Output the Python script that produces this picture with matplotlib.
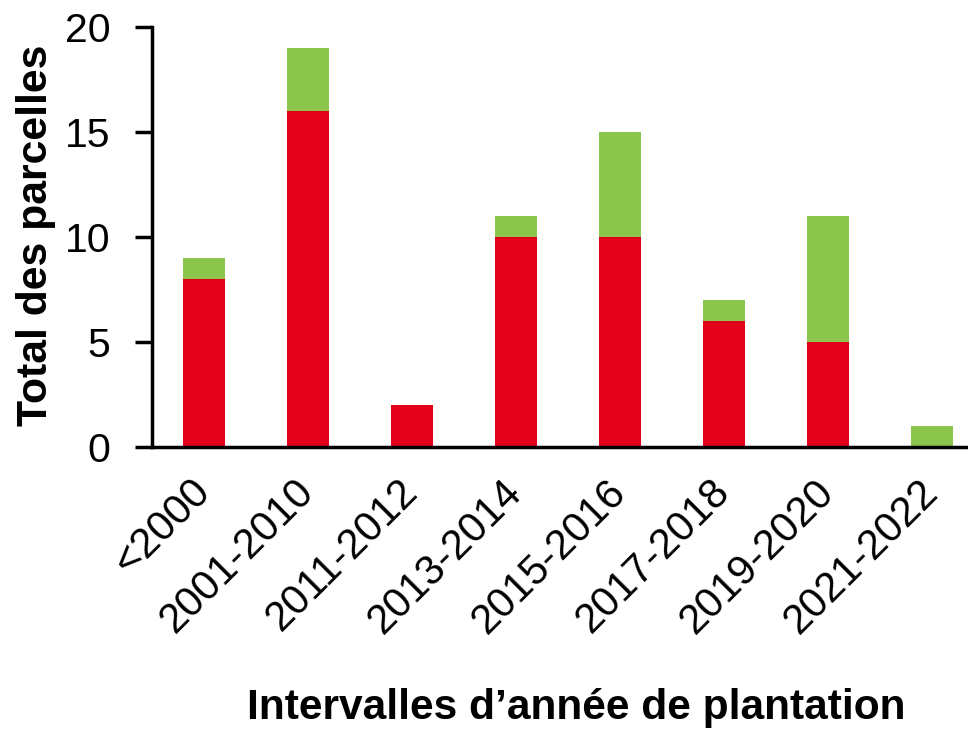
import matplotlib
matplotlib.use('Agg')
import matplotlib.pyplot as plt
import numpy as np

plt.rcParams['font.family'] = ['Liberation Sans', 'DejaVu Sans']

categories = ['<2000', '2001-2010', '2011-2012', '2013-2014', '2015-2016',
              '2017-2018', '2019-2020', '2021-2022']
red_vals = [8, 16, 2, 10, 10, 6, 5, 0]
green_vals = [1, 3, 0, 1, 5, 1, 6, 1]

red = '#E2001A'
green = '#8BC54C'

fig = plt.figure(figsize=(9.68, 7.30), dpi=100)
ax = fig.add_axes([152/968, 283/730, 832/968, 420/730])

x = np.arange(len(categories))
ax.bar(x, red_vals, width=0.4, color=red)
ax.bar(x, green_vals, width=0.4, bottom=red_vals, color=green)

ax.set_xlim(-0.5, 7.5)
ax.set_ylim(0, 20)
ax.set_yticks([0, 5, 10, 15, 20])
ax.set_xticks(x)
ax.set_xticklabels(categories, rotation=45, ha='right', va='center',
                   rotation_mode='anchor', fontsize=30)
ax.tick_params(axis='y', labelsize=29.5, length=12, width=2.5, pad=18)
ax.tick_params(axis='x', length=0, pad=28)

for s in ['top', 'right']:
    ax.spines[s].set_visible(False)
for s in ['left', 'bottom']:
    ax.spines[s].set_linewidth(2.5)

fig.text(36/968, 1 - 235/730, 'Total des parcelles', fontsize=30.8,
         fontweight='bold', rotation=90, ha='center', va='center')
fig.text(576/968, 1 - 708/730, 'Intervalles d\u2019année de plantation',
         fontsize=30.6, fontweight='bold', ha='center', va='center')

fig.savefig('out.png', dpi=100)
